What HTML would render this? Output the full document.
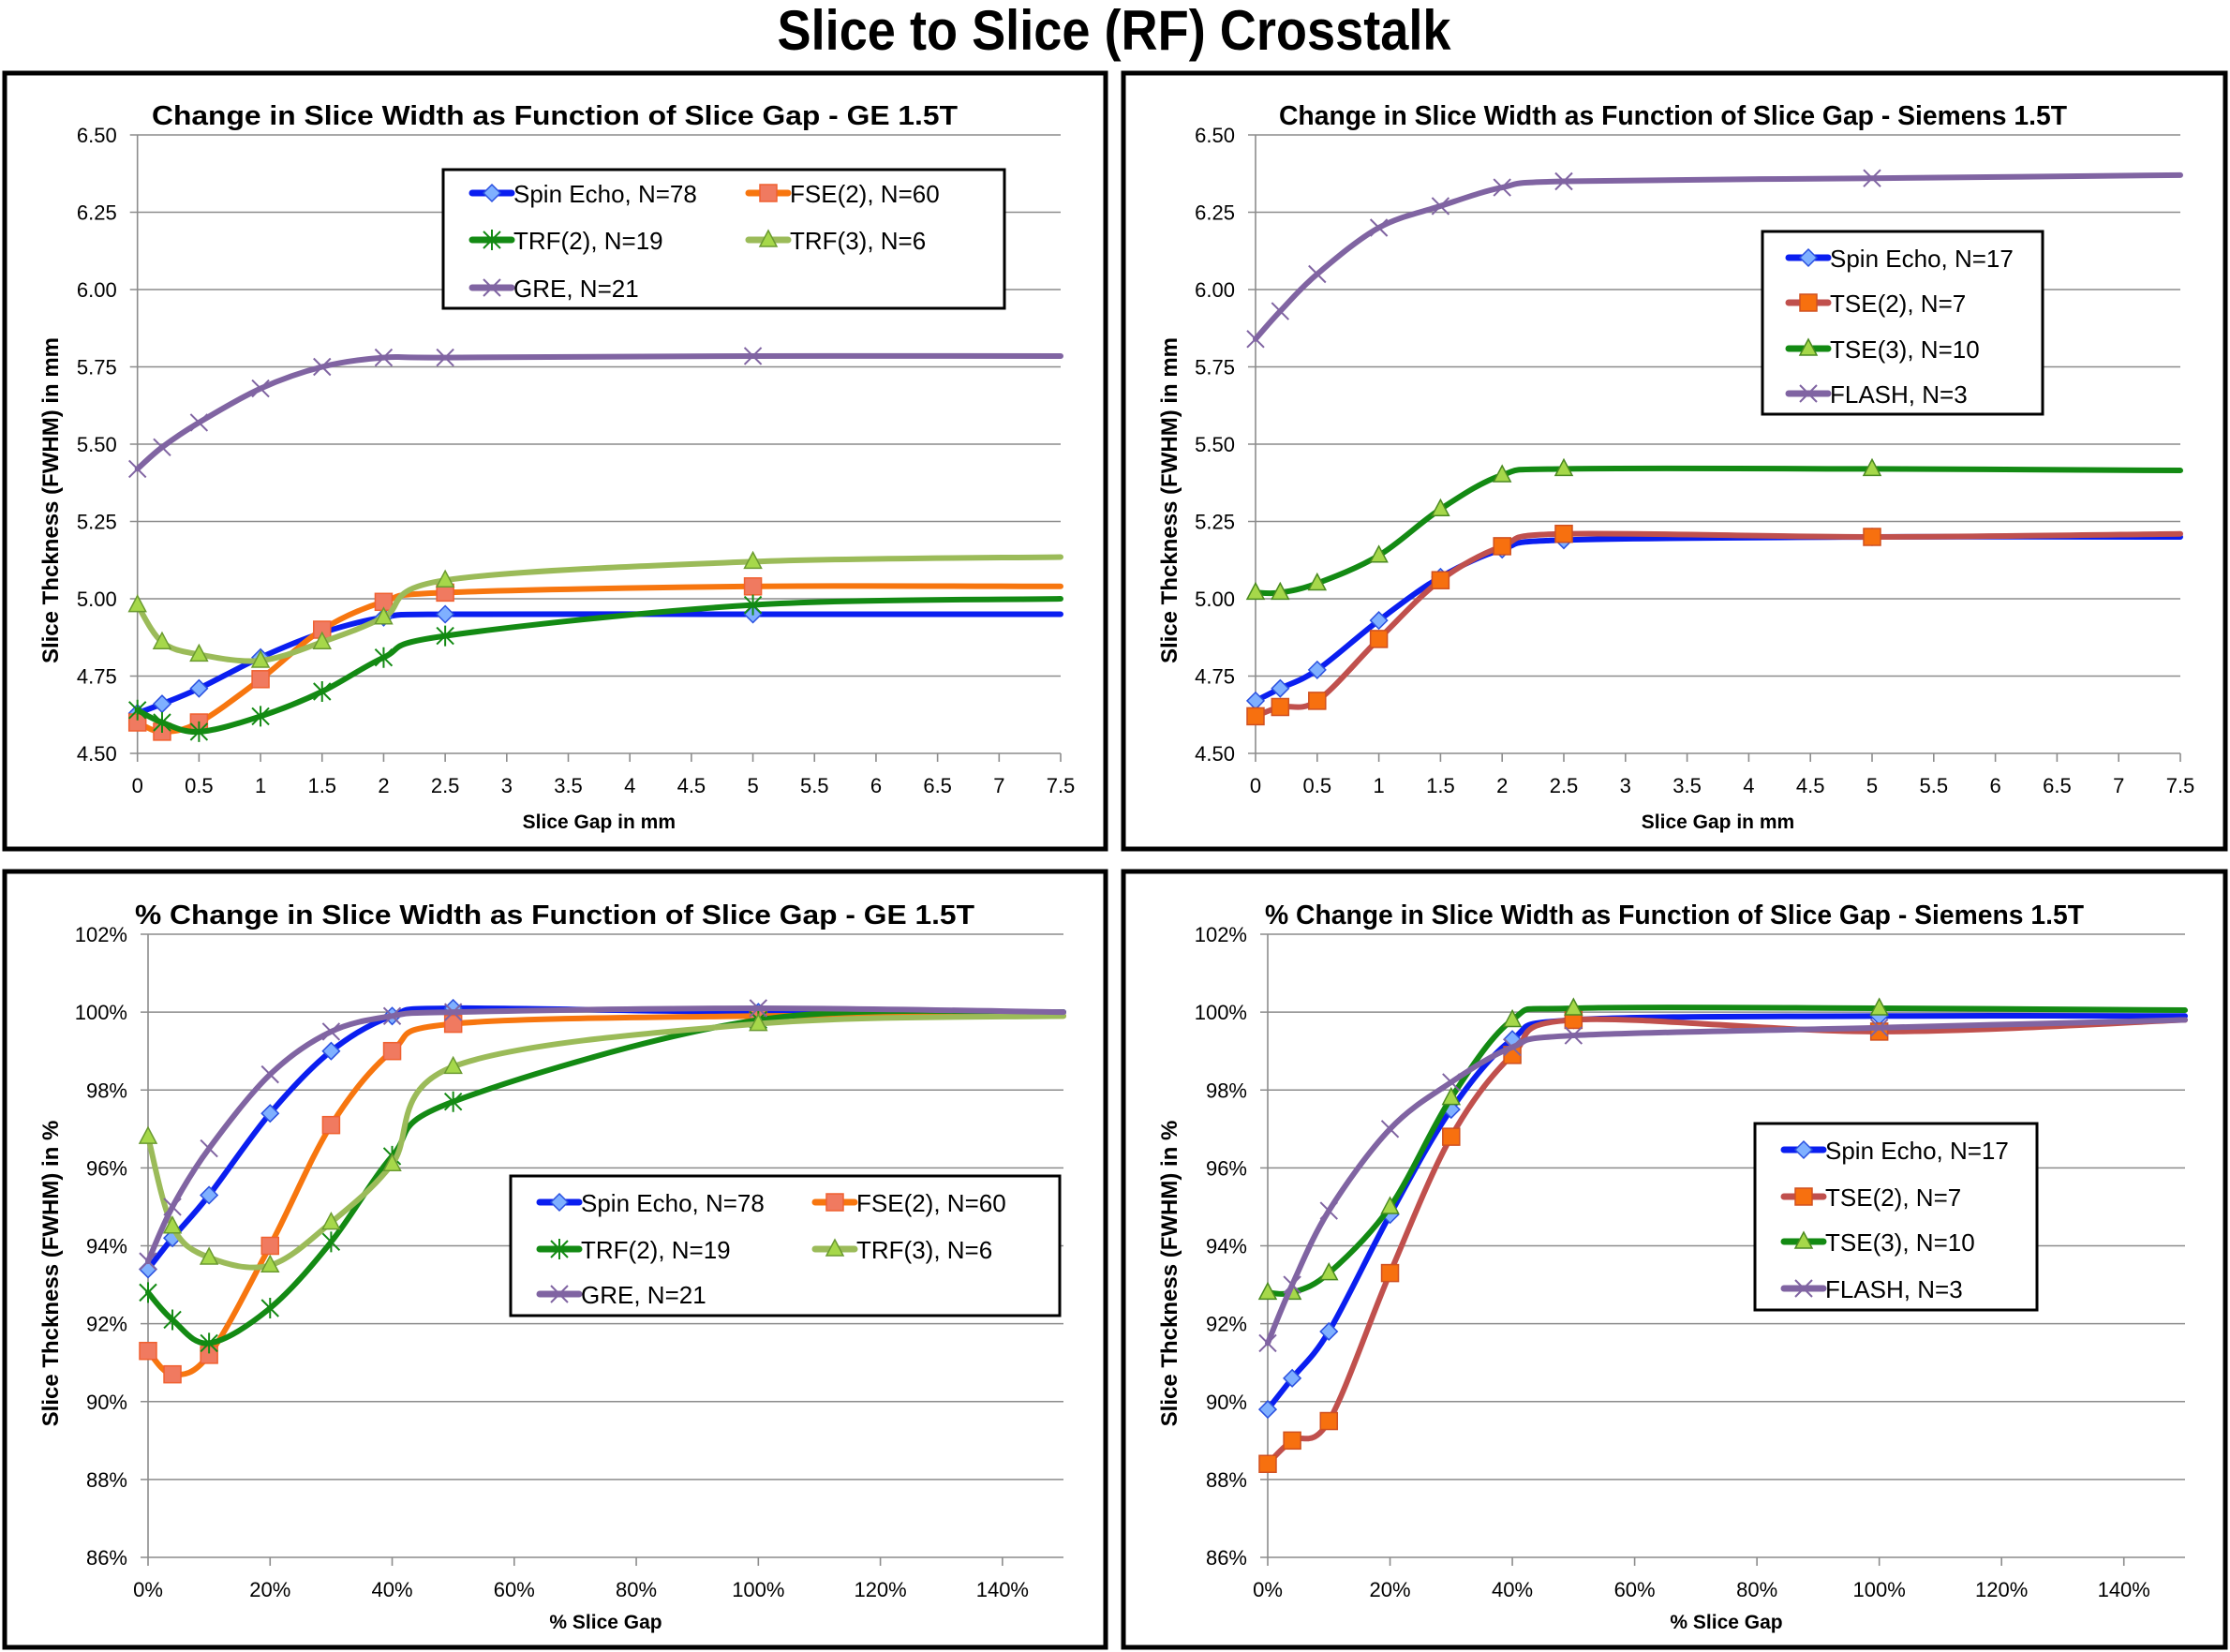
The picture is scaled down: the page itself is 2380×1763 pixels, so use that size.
<!DOCTYPE html>
<html><head><meta charset="utf-8"><style>
html,body{margin:0;padding:0;background:#fff}
svg{display:block;font-family:"Liberation Sans",sans-serif}
</style></head><body>
<svg id="root" width="2380" height="1763" viewBox="0 0 2380 1763" xmlns="http://www.w3.org/2000/svg">
<text x="1189" y="53" text-anchor="middle" font-size="60" font-weight="bold" textLength="719" lengthAdjust="spacingAndGlyphs">Slice to Slice (RF) Crosstalk</text>
</svg>
<script>
// ---- data ----
const gapMm = [0, 0.2, 0.5, 1, 1.5, 2, 2.5, 5, 7.5];
const gapPct = [0, 4, 10, 20, 30, 40, 50, 100, 150];
const mmTicks = ["0","0.5","1","1.5","2","2.5","3","3.5","4","4.5","5","5.5","6","6.5","7","7.5"];
const mmYTicks = ["4.50","4.75","5.00","5.25","5.50","5.75","6.00","6.25","6.50"];
const pctTicks = ["0%","20%","40%","60%","80%","100%","120%","140%"];
const pctYTicks = ["86%","88%","90%","92%","94%","96%","98%","100%","102%"];

const geSpinEcho = [4.63,4.66,4.71,4.81,4.89,4.94,4.95,4.95,4.95];
const geFse2 = [4.60,4.57,4.60,4.74,4.90,4.99,5.02,5.04,5.04];
const geTrf2 = [4.64,4.60,4.57,4.62,4.70,4.81,4.88,4.98,5.00];
const geTrf3 = [4.98,4.86,4.82,4.80,4.86,4.94,5.06,5.12,5.135];
const geGre = [5.42,5.49,5.57,5.68,5.75,5.78,5.78,5.785,5.785];

const smSpinEcho = [4.67,4.71,4.77,4.93,5.07,5.16,5.19,5.20,5.20];
const smTse2 = [4.62,4.65,4.67,4.87,5.06,5.17,5.21,5.20,5.21];
const smTse3 = [5.02,5.02,5.05,5.14,5.29,5.40,5.42,5.42,5.415];
const smFlash = [5.84,5.93,6.05,6.20,6.27,6.33,6.35,6.36,6.37];

const gePctSpinEcho = [93.4,94.2,95.3,97.4,99.0,99.9,100.1,100.0,100.0];
const gePctFse2 = [91.3,90.7,91.2,94.0,97.1,99.0,99.7,99.9,99.9];
const gePctTrf2 = [92.8,92.1,91.5,92.4,94.1,96.3,97.7,99.8,100.0];
const gePctTrf3 = [96.8,94.5,93.7,93.5,94.6,96.1,98.6,99.7,99.9];
const gePctGre = [93.6,95.0,96.5,98.4,99.5,99.9,100.0,100.1,100.0];

const smPctSpinEcho = [89.8,90.6,91.8,94.8,97.5,99.3,99.8,99.9,99.9];
const smPctTse2 = [88.4,89.0,89.5,93.3,96.8,98.9,99.8,99.5,99.8];
const smPctTse3 = [92.8,92.8,93.3,95.0,97.8,99.8,100.1,100.1,100.05];
const smPctFlash = [91.5,93.0,94.9,97.0,98.2,99.1,99.4,99.6,99.8];

// ---- styles ----
const ST = {
  se:{line:"#0a1ef0",fill:"#7fb0ff",stroke:"#2a50e0",m:"diamond"},
  fse:{line:"#f7760f",fill:"#f07a60",stroke:"#f06030",m:"square"},
  tse2:{line:"#c0504d",fill:"#f7700f",stroke:"#d05020",m:"square"},
  trf2:{line:"#138a13",fill:"none",stroke:"#138a13",m:"star"},
  trf3:{line:"#9bbb59",fill:"#a6d84a",stroke:"#6a9a30",m:"tri"},
  tse3:{line:"#138a13",fill:"#a6d84a",stroke:"#4a8a20",m:"tri"},
  gre:{line:"#8064a2",fill:"none",stroke:"#8064a2",m:"x"}
};

const NS = "http://www.w3.org/2000/svg";
const root = document.getElementById("root");
function el(tag, attrs, parent){
  const e = document.createElementNS(NS, tag);
  for (const k in attrs) e.setAttribute(k, attrs[k]);
  (parent||root).appendChild(e);
  return e;
}
function txt(s, attrs, parent){ const t = el("text", attrs, parent); t.textContent = s; return t; }

function marker(g, type, x, y, st){
  const s = 9;
  let m;
  if (type==="diamond") m = el("polygon",{points:`${x},${y-s} ${x+s},${y} ${x},${y+s} ${x-s},${y}`,fill:st.fill,stroke:st.stroke,"stroke-width":1.5},g);
  else if (type==="square") m = el("rect",{x:x-s,y:y-s,width:2*s,height:2*s,fill:st.fill,stroke:st.stroke,"stroke-width":1.5},g);
  else if (type==="tri") m = el("polygon",{points:`${x},${y-s-1} ${x+s},${y+s-2} ${x-s},${y+s-2}`,fill:st.fill,stroke:st.stroke,"stroke-width":1.5},g);
  else if (type==="star") m = el("path",{d:`M${x-s},${y-s}L${x+s},${y+s}M${x-s},${y+s}L${x+s},${y-s}M${x},${y-s-2}L${x},${y+s+2}`,stroke:st.stroke,"stroke-width":2,fill:"none"},g);
  else m = el("path",{d:`M${x-s},${y-s}L${x+s},${y+s}M${x-s},${y+s}L${x+s},${y-s}`,stroke:st.stroke,"stroke-width":2,fill:"none"},g);
  
  
}

function smoothPath(pts){
  let d = `M${pts[0][0]},${pts[0][1]}`;
  for (let i=0;i<pts.length-1;i++){
    const p0=pts[Math.max(0,i-1)], p1=pts[i], p2=pts[i+1], p3=pts[Math.min(pts.length-1,i+2)];
    const t=6;
    const c1x=p1[0]+(p2[0]-p0[0])/t, c1y=p1[1]+(p2[1]-p0[1])/t;
    const c2x=p2[0]-(p3[0]-p1[0])/t, c2y=p2[1]-(p3[1]-p1[1])/t;
    d += `C${c1x},${c1y} ${c2x},${c2y} ${p2[0]},${p2[1]}`;
  }
  return d;
}

function chart(cfg){
  const g = el("g",{});
  
  
  const fr = el("rect",{x:cfg.box[0],y:cfg.box[1],width:cfg.box[2],height:cfg.box[3],fill:"#fff",stroke:"#000","stroke-width":5},g);
  
  
  const [x0,x1,y0,y1] = cfg.plot;
  const sx = v => x0 + (v-cfg.xmin)/(cfg.xmax-cfg.xmin)*(x1-x0);
  const sy = v => y0 - (v-cfg.ymin)/(cfg.ymax-cfg.ymin)*(y0-y1);
  const t = txt(cfg.title,{x:cfg.titlePos[0],y:cfg.titlePos[1],"font-size":29,"font-weight":"bold",textLength:cfg.titlePos[2],lengthAdjust:"spacingAndGlyphs"},g);
  
  
  cfg.yTicks.forEach((lab,i)=>{
    const v = cfg.ymin + i*cfg.ystep, y = sy(v);
    const gl = el("line",{x1:x0-8,x2:x1,y1:y,y2:y,stroke:"#8c8c8c","stroke-width":1.6},g);
    
    
    const tl = txt(lab,{x:x0-22,y:y+8,"font-size":22,"text-anchor":"end"},g);
    
    
  });
  const ax = el("line",{x1:x0,x2:x0,y1:y0,y2:y1,stroke:"#8c8c8c","stroke-width":1.6},g);
  
  
  cfg.xTicks.forEach((lab,i)=>{
    const x = sx(cfg.xmin + i*cfg.xstep);
    const tk = el("line",{x1:x,x2:x,y1:y0,y2:y0+9,stroke:"#8c8c8c","stroke-width":1.6},g);
    
    
    const tl = txt(lab,{x:x,y:y0+42,"font-size":22,"text-anchor":"middle"},g);
    
    
  });
  const xt = txt(cfg.xTitle,{x:(x0+x1)/2,y:cfg.xTitleY,"font-size":21,"font-weight":"bold","text-anchor":"middle"},g);
  
  
  const yt = txt(cfg.yTitle,{x:0,y:0,"font-size":24,"font-weight":"bold","text-anchor":"middle",transform:`translate(${cfg.yTitleX},${cfg.yTitleY}) rotate(-90)`},g);
  
  
  cfg.series.forEach(s=>{
    const st = ST[s.key];
    const sg = el("g",{},g);
    
    
    const pts = cfg.xs.map((xv,i)=>[sx(xv), sy(s.vals[i])]);
    const p = el("path",{d:smoothPath(pts),fill:"none",stroke:st.line,"stroke-width":6,"stroke-linecap":"round"},sg);
    
    
    pts.slice(0,pts.length-1).forEach(pt=>marker(sg, st.m, pt[0], pt[1], st));
  });
  const L = cfg.legend;
  const lg = el("g",{},g);
  
  
  el("rect",{x:L.box[0],y:L.box[1],width:L.box[2],height:L.box[3],fill:"#fff",stroke:"#000","stroke-width":3},lg);
  cfg.series.forEach((s,i)=>{
    const st = ST[s.key];
    const col = i % L.cols, row = Math.floor(i / L.cols);
    const mx = L.mx[col], y = L.rows[row];
    const e = el("g",{},lg);
    
    
    el("line",{x1:mx-21,x2:mx+21,y1:y,y2:y,stroke:st.line,"stroke-width":7,"stroke-linecap":"round"},e);
    marker(e, st.m, mx, y, st);
    txt(s.label,{x:mx+23,y:y+10,"font-size":26},e);
  });
}

chart({name:"chart-ge-mm",box:[5,78,1175,828],plot:[146.7,1132,804,144],xmin:0,xmax:7.5,ymin:4.5,ymax:6.5,ystep:0.25,xstep:0.5,
  xTicks:mmTicks,yTicks:mmYTicks,xs:gapMm,title:"Change in Slice Width as Function of Slice Gap - GE 1.5T",titlePos:[162,133,860],
  xTitle:"Slice Gap in mm",xTitleY:884,yTitle:"Slice Thckness (FWHM) in mm",yTitleX:62,yTitleY:534,
  series:[{key:"se",label:"Spin Echo, N=78",vals:geSpinEcho},{key:"fse",label:"FSE(2), N=60",vals:geFse2},{key:"trf2",label:"TRF(2), N=19",vals:geTrf2},{key:"trf3",label:"TRF(3), N=6",vals:geTrf3},{key:"gre",label:"GRE, N=21",vals:geGre}],
  legend:{box:[473,181,599,148],cols:2,mx:[525,820],rows:[206,256,307]}});

chart({name:"chart-siemens-mm",box:[1199,78,1176,828],plot:[1340,2327,804,144],xmin:0,xmax:7.5,ymin:4.5,ymax:6.5,ystep:0.25,xstep:0.5,
  xTicks:mmTicks,yTicks:mmYTicks,xs:gapMm,title:"Change in Slice Width as Function of Slice Gap - Siemens 1.5T",titlePos:[1365,133,841],
  xTitle:"Slice Gap in mm",xTitleY:884,yTitle:"Slice Thckness (FWHM) in mm",yTitleX:1256,yTitleY:534,
  series:[{key:"se",label:"Spin Echo, N=17",vals:smSpinEcho},{key:"tse2",label:"TSE(2), N=7",vals:smTse2},{key:"tse3",label:"TSE(3), N=10",vals:smTse3},{key:"gre",label:"FLASH, N=3",vals:smFlash}],
  legend:{box:[1881,247,299,195],cols:1,mx:[1930],rows:[275,323,372,420]}});

chart({name:"chart-ge-pct",box:[5,930,1175,828],plot:[158,1135,1662,997],xmin:0,xmax:150,ymin:86,ymax:102,ystep:2,xstep:20,
  xTicks:pctTicks,yTicks:pctYTicks,xs:gapPct,title:"% Change in Slice Width as Function of Slice Gap - GE 1.5T",titlePos:[144,986,896],
  xTitle:"% Slice Gap",xTitleY:1738,yTitle:"Slice Thckness (FWHM) in %",yTitleX:62,yTitleY:1359,
  series:[{key:"se",label:"Spin Echo, N=78",vals:gePctSpinEcho},{key:"fse",label:"FSE(2), N=60",vals:gePctFse2},{key:"trf2",label:"TRF(2), N=19",vals:gePctTrf2},{key:"trf3",label:"TRF(3), N=6",vals:gePctTrf3},{key:"gre",label:"GRE, N=21",vals:gePctGre}],
  legend:{box:[545,1255,586,149],cols:2,mx:[597,891],rows:[1283,1333,1381]}});

chart({name:"chart-siemens-pct",box:[1199,930,1176,828],plot:[1353,2332,1662,997],xmin:0,xmax:150,ymin:86,ymax:102,ystep:2,xstep:20,
  xTicks:pctTicks,yTicks:pctYTicks,xs:gapPct,title:"% Change in Slice Width as Function of Slice Gap - Siemens 1.5T",titlePos:[1350,986,874],
  xTitle:"% Slice Gap",xTitleY:1738,yTitle:"Slice Thckness (FWHM) in %",yTitleX:1256,yTitleY:1359,
  series:[{key:"se",label:"Spin Echo, N=17",vals:smPctSpinEcho},{key:"tse2",label:"TSE(2), N=7",vals:smPctTse2},{key:"tse3",label:"TSE(3), N=10",vals:smPctTse3},{key:"gre",label:"FLASH, N=3",vals:smPctFlash}],
  legend:{box:[1873,1199,301,199],cols:1,mx:[1925],rows:[1227,1277,1325,1375]}});
</script>
</body></html>
